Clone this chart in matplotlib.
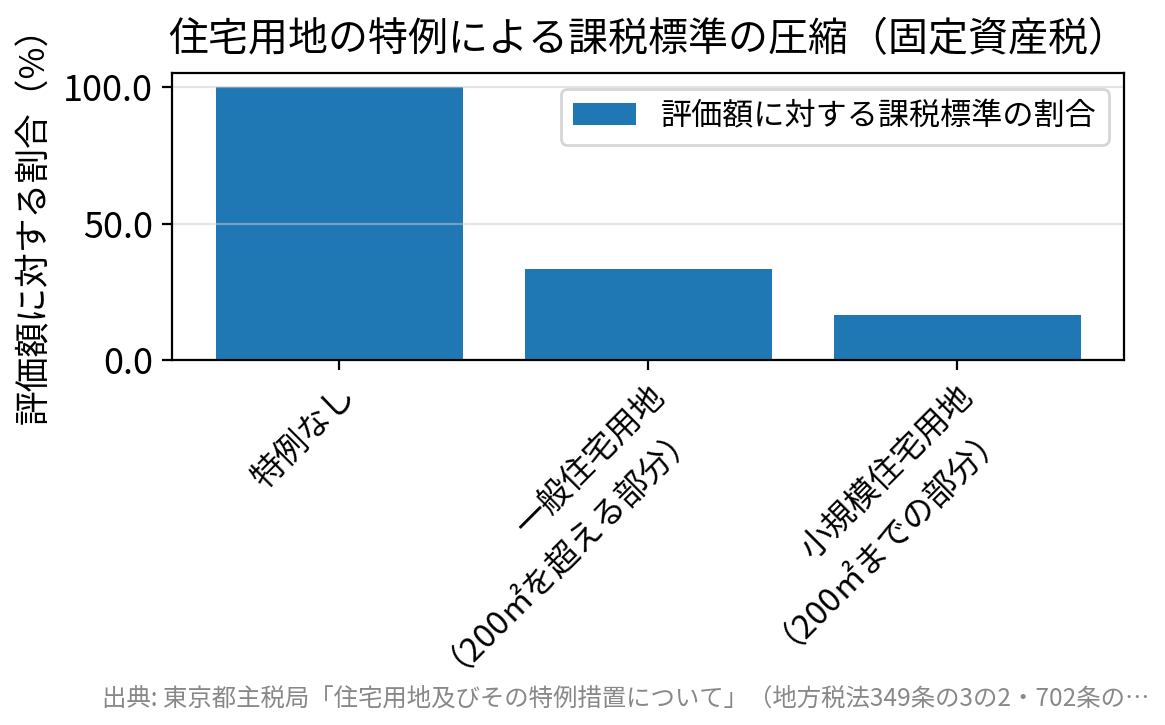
import matplotlib
matplotlib.use("Agg")
import matplotlib.pyplot as plt

plt.rcParams['font.family'] = ['Noto Sans CJK JP', 'DejaVu Sans']

#data
categories = ["特例なし", "一般住宅用地\n（200㎡を超える部分）", "小規模住宅用地\n（200㎡までの部分）"]
ratios = [100.0, 33.3, 16.7]
series_name = "評価額に対する課税標準の割合"
title = "住宅用地の特例による課税標準の圧縮（固定資産税）"
ylabel = "評価額に対する割合（%）"
source = "出典: 東京都主税局「住宅用地及びその特例措置について」（地方税法349条の3の2・702条の…"

#figure is drawn at 200 dpi
fig, ax = plt.subplots(figsize=(5.825, 3.625), dpi=200)
fig.subplots_adjust(left=0.148, right=0.965, top=0.899, bottom=0.503)

ax.bar(categories, ratios, width=0.8, color="#1f77b4", label=series_name)
ax.set_title(title, fontsize=14.4, pad=8)
ax.set_ylabel(ylabel, fontsize=12.5)
ax.set_yticks([0, 50, 100])
ax.set_yticklabels(["0.0", "50.0", "100.0"])
ax.tick_params(axis="y", labelsize=13)
ax.tick_params(axis="x", labelsize=11.8)
plt.setp(ax.get_xticklabels(), rotation=45, ha="right", rotation_mode="anchor")
ax.grid(axis="y", color="#cccccc", linewidth=0.8, alpha=0.5)
ax.legend(loc="upper right", fontsize=11.2)

fig.text(0.987, 0.036, source, ha="right", va="center", fontsize=8.8, color="#888888")

fig.savefig("out.png", dpi=200)
